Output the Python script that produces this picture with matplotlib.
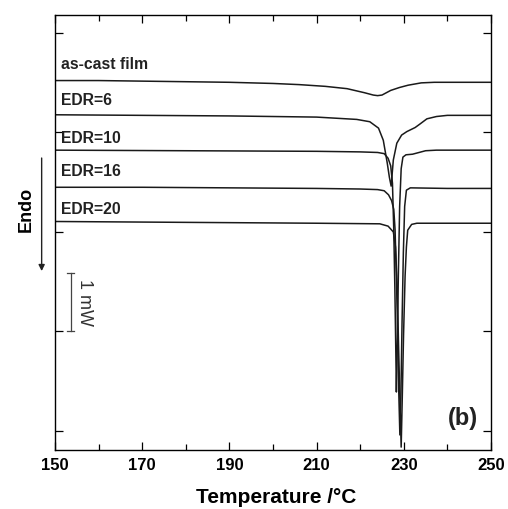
import numpy as np
import matplotlib
matplotlib.use("Agg")
import matplotlib.pyplot as plt
from matplotlib.ticker import MultipleLocator

plt.rcParams['font.family'] = ['Liberation Sans', 'DejaVu Sans']

# DSC traces (temperature in degC, heat flow in mW, offset)
T_cast = [150, 160, 170, 180, 190, 200, 206, 212, 217, 221, 223, 224, 225, 227,
          229, 231, 234, 237, 242, 250]
y_cast = [6.37, 6.37, 6.36, 6.35, 6.34, 6.32, 6.30, 6.27, 6.23, 6.16, 6.12, 6.11,
          6.12, 6.20, 6.25, 6.29, 6.33, 6.34, 6.34, 6.34]

T_edr6 = [150, 170, 190, 210, 219.2, 222.2, 224.2, 225.3, 226.2, 226.7, 227.1,
          227.6, 228.4, 229.5, 230.7, 232.6, 233.7, 235.3, 237.5, 240, 250]
y_edr6 = [5.78, 5.77, 5.76, 5.74, 5.70, 5.66, 5.55, 5.34, 4.95, 4.70, 4.55,
          5.00, 5.29, 5.43, 5.49, 5.56, 5.62, 5.71, 5.75, 5.77, 5.77]

T_edr10 = [150, 180, 210, 220, 224, 225.5, 226.4, 227.0, 227.4, 227.7, 227.95,
           228.15, 228.3, 228.5, 228.75, 229.05, 229.4, 229.8, 230.5, 232,
           233.5, 235, 237.5, 250]
y_edr10 = [5.17, 5.16, 5.15, 5.14, 5.13, 5.11, 5.03, 4.90, 4.60, 3.80, 2.80,
           1.80, 1.00, 1.80, 3.00, 4.20, 4.85, 5.05, 5.09, 5.10, 5.13, 5.16,
           5.17, 5.17]

T_edr16 = [150, 170, 190, 210, 220, 224, 225.5, 226.5, 227.2, 227.7, 228.0,
           228.3, 228.6, 228.85, 229.1, 229.35, 229.6, 229.9, 230.2, 230.6,
           231.5, 240, 250]
y_edr16 = [4.53, 4.53, 4.52, 4.51, 4.50, 4.49, 4.47, 4.40, 4.30, 4.15, 3.80,
           3.00, 2.00, 1.00, 0.26, 1.00, 2.20, 3.40, 4.20, 4.48, 4.52, 4.51, 4.51]

T_edr20 = [150, 170, 190, 210, 224.5, 226.4, 227.6, 228.1, 228.5, 228.8, 229.1,
           229.4, 229.65, 229.95, 230.3, 230.6, 230.9, 231.8, 233, 250]
y_edr20 = [3.94, 3.93, 3.92, 3.91, 3.90, 3.86, 3.76, 3.50, 2.80, 1.80, 0.90,
           0.05, 0.90, 2.00, 3.00, 3.50, 3.79, 3.89, 3.91, 3.91]

curve_labels = ["as-cast film", "EDR=6", "EDR=10", "EDR=16", "EDR=20"]
label_y = [6.64, 6.03, 5.37, 4.80, 4.15]

x_ticks = [150, 170, 190, 210, 230, 250]

# scale bar (1 mW)
bar_T = 153.6
bar_y0 = 2.05
bar_len = 1.0

fig = plt.figure(figsize=(5.08, 5.09), dpi=100)
ax = fig.add_axes([0.1083, 0.1159, 0.8582, 0.8546])

for T, y in [(T_cast, y_cast), (T_edr6, y_edr6), (T_edr10, y_edr10),
             (T_edr16, y_edr16), (T_edr20, y_edr20)]:
    ax.plot(T, y, color='#1a1a1a', lw=1.1)

for lab, ly in zip(curve_labels, label_y):
    ax.text(151.4, ly, lab, fontsize=11.3, fontweight='bold', va='center',
            ha='left', color='#222222')

ax.text(243.6, 0.55, "(b)", fontsize=17, fontweight='bold', ha='center',
        va='center', color='#222222')

# scale bar
ax.plot([bar_T, bar_T], [bar_y0, bar_y0 + bar_len], color='#444444', lw=0.9)
for yy in (bar_y0, bar_y0 + bar_len):
    ax.plot([bar_T - 0.8, bar_T + 0.8], [yy, yy], color='#444444', lw=0.9)
ax.text(bar_T + 1.1, bar_y0 + bar_len / 2, "1 mW", rotation=-90, fontsize=13,
        ha='left', va='center', color='#333333')

ax.set_xlim(150, 250)
ax.set_ylim(0, 7.5)
ax.set_xticks(x_ticks)
ax.xaxis.set_minor_locator(MultipleLocator(10))
ax.set_yticks(np.arange(0.33, 7.5, 1.715))
ax.set_yticklabels([])
ax.tick_params(which='both', direction='in', top=True, right=True, width=0.9)
ax.tick_params(which='major', length=6)
ax.tick_params(which='minor', length=4)
ax.tick_params(axis='x', labelsize=12, pad=6)
for lbl in ax.get_xticklabels():
    lbl.set_fontweight('bold')
for s in ax.spines.values():
    s.set_linewidth(1.0)

ax.set_xlabel("Temperature /°C", fontsize=15, fontweight='bold')
ax.xaxis.set_label_coords(0.508, -0.087)

# Endo arrow
fig.text(0.052, 0.589, "Endo", rotation=90, fontsize=13, fontweight='bold',
         ha='center', va='center')
fig.add_artist(matplotlib.patches.FancyArrowPatch(
    (0.082, 0.695), (0.082, 0.462), transform=fig.transFigure,
    arrowstyle='-|>', mutation_scale=9, lw=1.0, color='#222222'))

fig.savefig("out.png", dpi=100)
